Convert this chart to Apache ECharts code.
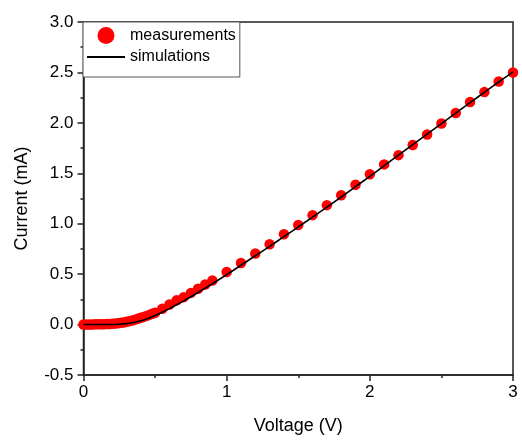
<!DOCTYPE html>
<html>
<head>
<meta charset="utf-8">
<script src="https://cdn.jsdelivr.net/npm/echarts@6/dist/echarts.min.js"></script>
<style>html,body{margin:0;padding:0;background:#fff;}#c{width:522px;height:440px;}</style>
</head>
<body>
<div id="c"></div>
<script>
// Measured data (V, mA)
const measV = [0.00,0.02,0.04,0.06,0.08,0.10,0.12,0.14,0.16,0.18,0.20,0.22,0.24,0.26,0.28,0.30,0.32,0.34,0.36,0.38,0.40,0.42,0.44,0.46,0.48,0.50,
  0.55,0.60,0.65,0.70,0.75,0.80,0.85,0.90,
  1.0,1.1,1.2,1.3,1.4,1.5,1.6,1.7,1.8,1.9,2.0,2.1,2.2,2.3,2.4,2.5,2.6,2.7,2.8,2.9,3.0];
const measI = [0.000,0.000,0.001,0.001,0.002,0.002,0.003,0.004,0.005,0.006,0.008,0.010,0.013,0.017,0.021,0.027,0.034,0.041,0.049,0.058,0.067,0.076,0.086,0.096,0.107,0.118,
  0.157,0.199,0.240,0.272,0.314,0.355,0.397,0.437,
  0.522,0.610,0.705,0.797,0.895,0.987,1.085,1.184,1.282,1.387,1.490,1.588,1.680,1.780,1.885,1.993,2.098,2.206,2.305,2.410,2.500];
// Simulation data (V, mA)
const simV = [0.0,0.1,0.2,0.25,0.3,0.35,0.4,0.45,0.5,0.55,0.6,0.65,0.7,0.75,0.8,0.9,1.0,1.1,1.2,1.3,1.4,1.5,1.6,1.7,1.8,1.9,2.0,2.1,2.2,2.3,2.4,2.5,2.6,2.7,2.8,2.9,3.0];
const simI = [0.000,0.000,0.001,0.003,0.009,0.020,0.038,0.061,0.090,0.122,0.158,0.196,0.235,0.276,0.318,0.405,0.495,0.588,0.682,0.776,0.872,0.968,1.066,1.165,1.265,1.367,1.470,1.575,1.680,1.784,1.888,1.993,2.097,2.200,2.303,2.405,2.505];
const xTicks = [0,1,2,3];
const yTicks = [-0.5,0.0,0.5,1.0,1.5,2.0,2.5,3.0];

const font = '"Liberation Sans", Arial, sans-serif';
const chart = echarts.init(document.getElementById('c'));
chart.setOption({
  animation: false,
  backgroundColor: '#fff',
  grid: {left: 83.5, right: 9, top: 22, bottom: 61.7, show: true, borderColor: '#222', borderWidth: 1.5, backgroundColor: 'transparent'},
  legend: {
    left: 83, top: 22, orient: 'vertical',
    backgroundColor: '#fff', borderColor: '#555', borderWidth: 1,
    padding: [5, 4, 12, 4], itemGap: 5, itemWidth: 38, itemHeight: 17,
    textStyle: {fontFamily: font, fontSize: 16, color: '#000'},
    data: [
      {name: 'measurements', icon: 'circle', itemStyle: {color: '#ff0000'}},
      {name: 'simulations', icon: 'path://M0,0L38,0L38,1.8L0,1.8Z', itemStyle: {color: '#000', borderWidth: 0}}
    ]
  },
  xAxis: {
    type: 'value', min: xTicks[0], max: xTicks[xTicks.length-1], interval: 1,
    name: 'Voltage (V)', nameLocation: 'middle', nameGap: 42,
    nameTextStyle: {fontFamily: font, fontSize: 18, color: '#000'},
    axisLine: {onZero: false, lineStyle: {color: '#222', width: 1.5}},
    axisTick: {show: true, length: 6, lineStyle: {color: '#222', width: 1.5}},
    minorTick: {show: true, splitNumber: 2, length: 3, lineStyle: {color: '#222', width: 1.5}},
    axisLabel: {fontFamily: font, fontSize: 17, color: '#000', margin: 9},
    splitLine: {show: false}
  },
  yAxis: {
    type: 'value', min: yTicks[0], max: yTicks[yTicks.length-1], interval: 0.5,
    name: 'Current (mA)', nameLocation: 'middle', nameGap: 52,
    nameTextStyle: {fontFamily: font, fontSize: 18, color: '#000'},
    axisLine: {show: true, onZero: false, lineStyle: {color: '#222', width: 1.5}},
    axisTick: {show: true, length: 6, lineStyle: {color: '#222', width: 1.5}},
    minorTick: {show: true, splitNumber: 2, length: 3, lineStyle: {color: '#222', width: 1.5}},
    axisLabel: {fontFamily: font, fontSize: 17, color: '#000', margin: 10, formatter: v => v.toFixed(1)},
    splitLine: {show: false}
  },
  series: [
    {
      name: 'measurements', type: 'scatter', symbol: 'circle', symbolSize: 10.5,
      itemStyle: {color: '#ff0000', opacity: 1, borderWidth: 0},
      data: measV.map((v, i) => [v, measI[i]]), z: 2
    },
    {
      name: 'simulations', type: 'line', symbol: 'none', smooth: 0.3,
      lineStyle: {color: '#000', width: 1.6}, itemStyle: {color: '#000'},
      data: simV.map((v, i) => [v, simI[i]]), z: 3
    }
  ]
});
</script>
</body>
</html>
